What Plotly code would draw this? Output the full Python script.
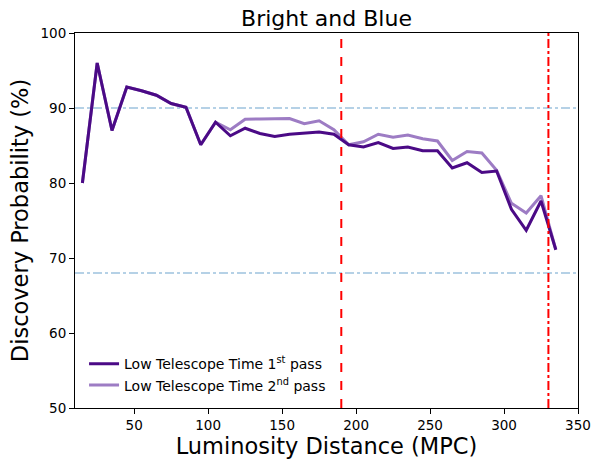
import plotly.graph_objects as go

distance = [15, 25, 35, 45, 55, 65, 75, 85, 95, 105, 115, 125, 135, 145, 155, 165,
            175, 185, 195, 205, 215, 225, 235, 245, 255, 265, 275, 285, 295, 305,
            315, 325, 335]
pass1 = [80.0, 96.0, 87.0, 92.8, 92.3, 91.7, 90.6, 90.1, 85.1, 88.1, 86.3, 87.3,
         86.6, 86.2, 86.5, 86.7, 86.8, 86.5, 85.1, 84.8, 85.4, 84.6, 84.8, 84.3,
         84.3, 82.0, 82.7, 81.4, 81.6, 76.5, 73.7, 77.6, 71.1]
pass2 = [80.0, 96.0, 87.0, 92.8, 92.3, 91.7, 90.6, 90.1, 85.1, 88.1, 87.1, 88.5,
         88.55, 88.6, 88.6, 87.9, 88.3, 87.1, 85.1, 85.5, 86.5, 86.1, 86.4, 85.9,
         85.6, 83.0, 84.2, 84.0, 81.7, 77.3, 76.0, 78.3, 71.1]
hlines = [90, 68]
vline_dash = 190
vline_dashdot = 330

font = "DejaVu Sans"
fig = go.Figure()
fig.add_trace(go.Scatter(x=distance, y=pass2, mode="lines",
                         line=dict(color="#9d7cc4", width=3),
                         name="Low Telescope Time 2<sup>nd</sup> pass"))
fig.add_trace(go.Scatter(x=distance, y=pass1, mode="lines",
                         line=dict(color="#4b0a86", width=3),
                         name="Low Telescope Time 1<sup>st</sup> pass"))

for h in hlines:
    fig.add_hline(y=h, line=dict(color="#b5d1e6", width=2, dash="dashdot"), layer="below")
fig.add_vline(x=vline_dash, line=dict(color="red", width=2, dash="dash"))
fig.add_vline(x=vline_dashdot, line=dict(color="red", width=2, dash="dashdot"))

fig.update_layout(
    width=592, height=461,
    margin=dict(l=75, r=14, t=33, b=53, autoexpand=False),
    paper_bgcolor="white", plot_bgcolor="white",
    font=dict(family=font, color="black", size=14),
    title=dict(text="Bright and Blue", xref="paper", x=0.5, xanchor="center",
               yref="container", y=1 - 18 / 461, yanchor="middle",
               font=dict(size=22, family=font)),
    showlegend=True,
    legend=dict(x=0.018, y=0.018, xanchor="left", yanchor="bottom",
                traceorder="reversed", bgcolor="rgba(0,0,0,0)",
                font=dict(size=14, family=font)),
    xaxis=dict(range=[10, 350], tickvals=[50, 100, 150, 200, 250, 300, 350],
               automargin=False, ticklabeloverflow="allow",
               showgrid=False, zeroline=False, showline=True, linecolor="black",
               linewidth=1, mirror=True, ticks="outside", ticklen=5, tickcolor="black",
               tickfont=dict(size=13.5),
               title=dict(text="Luminosity Distance (MPC)", font=dict(size=22.5, family=font),
                          standoff=4)),
    yaxis=dict(range=[50, 100], tickvals=[50, 60, 70, 80, 90, 100],
               automargin=False, ticklabeloverflow="allow",
               showgrid=False, zeroline=False, showline=True, linecolor="black",
               linewidth=1, mirror=True, ticks="outside", ticklen=5, tickcolor="black",
               tickfont=dict(size=13.5),
               title=dict(text="Discovery Probability (%)", font=dict(size=22.5, family=font),
                          standoff=5)),
)

fig.write_html("out.html", config={"displayModeBar": False},
               post_script="document.body.style.margin='0';document.body.style.overflow='hidden';")
